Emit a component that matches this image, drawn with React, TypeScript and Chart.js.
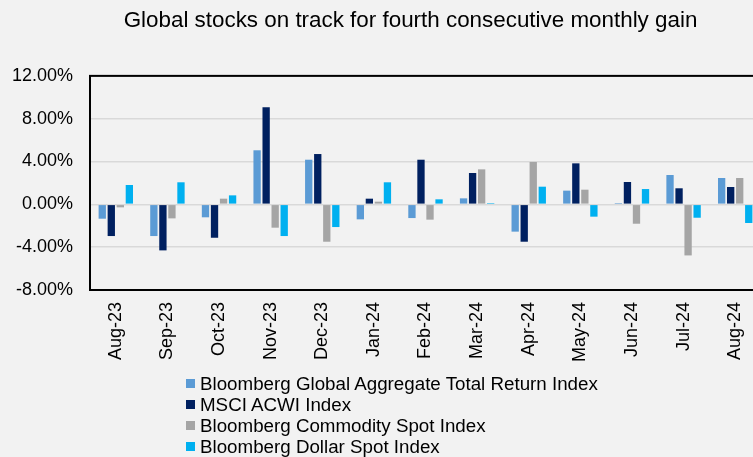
import React, { useEffect, useRef } from "react";
import { Chart, registerables } from "chart.js";

Chart.register(...registerables);

const TITLE = "Global stocks on track for fourth consecutive monthly gain";

const categories = [
  "Aug-23", "Sep-23", "Oct-23", "Nov-23", "Dec-23", "Jan-24", "Feb-24",
  "Mar-24", "Apr-24", "May-24", "Jun-24", "Jul-24", "Aug-24",
];

const seriesNames = [
  "Bloomberg Global Aggregate Total Return Index",
  "MSCI ACWI Index",
  "Bloomberg Commodity Spot Index",
  "Bloomberg Dollar Spot Index",
];

const seriesColors = ["#5B9BD5", "#002060", "#A5A5A5", "#00B0F0"];

const globalAgg = [-1.34, -2.96, -1.21, 5.05, 4.17, -1.40, -1.28, 0.56, -2.55, 1.28, 0.12, 2.74, 2.46];
const msciAcwi = [-2.96, -4.30, -3.12, 9.07, 4.70, 0.53, 4.17, 2.93, -3.49, 3.83, 2.09, 1.50, 1.62];
const commodity = [-0.28, -1.31, 0.53, -2.18, -3.49, 0.25, -1.43, 3.27, 3.96, 1.37, -1.81, -4.77, 2.46];
const dollar = [1.81, 2.06, 0.84, -2.96, -2.12, 2.06, 0.47, 0.12, 1.65, -1.15, 1.43, -1.25, -1.74];

const seriesValues = [globalAgg, msciAcwi, commodity, dollar];

const yTicks = [-8, -4, 0, 4, 8, 12];

const FONT = "'Liberation Sans', Arial, sans-serif";

const W = 821;
const H = 457;

const borderPlugin = {
  id: "areaBorder",
  afterDraw(chart: any) {
    const { ctx, chartArea } = chart;
    ctx.save();
    ctx.strokeStyle = "#000000";
    ctx.lineWidth = 2;
    ctx.strokeRect(chartArea.left, chartArea.top, chartArea.right - chartArea.left, chartArea.bottom - chartArea.top);
    ctx.restore();
  },
};

export default function App() {
  const ref = useRef<HTMLCanvasElement | null>(null);

  useEffect(() => {
    if (!ref.current) return;
    const chart = new Chart(ref.current, {
      type: "bar",
      data: {
        labels: categories,
        datasets: seriesNames.map((name, i) => ({
          label: name,
          data: seriesValues[i],
          backgroundColor: seriesColors[i],
          borderWidth: 0,
          categoryPercentage: 0.7,
          barPercentage: 0.81,
        })),
      },
      options: {
        animation: false,
        responsive: false,
        maintainAspectRatio: false,
        layout: { padding: { left: 0, right: 0, top: 0, bottom: 0 } },
        plugins: {
          legend: { display: false },
          tooltip: { enabled: false },
          title: {
            display: true,
            text: TITLE,
            color: "#000000",
            font: { family: FONT, size: 22.4, weight: "normal", lineHeight: 1.2 },
            padding: { top: 7, bottom: 42 },
          },
        },
        scales: {
          x: {
            grid: { display: false, drawTicks: false },
            border: { display: false },
            ticks: {
              color: "#000000",
              font: { family: FONT, size: 18 },
              minRotation: 90,
              maxRotation: 90,
              padding: 12,
              autoSkip: false,
            },
            afterFit(scale: any) {
              scale.height = H - 290;
            },
          },
          y: {
            min: -8,
            max: 12,
            afterBuildTicks(scale: any) {
              scale.ticks = yTicks.map((v) => ({ value: v }));
            },
            grid: { color: "#D9D9D9", lineWidth: 1.5, drawTicks: false },
            border: { display: false },
            ticks: {
              color: "#000000",
              font: { family: FONT, size: 18 },
              padding: 17,
              callback: (v: any) => Number(v).toFixed(2) + "%",
            },
            afterFit(scale: any) {
              scale.width = 90;
            },
          },
          yRightSpace: {
            position: "right",
            display: true,
            grid: { display: false, drawTicks: false },
            border: { display: false },
            ticks: { display: false },
            afterFit(scale: any) {
              scale.width = 60;
            },
          },
        },
      },
      plugins: [borderPlugin],
    });
    return () => chart.destroy();
  }, []);

  return (
    <div
      style={{
        position: "fixed",
        left: 0,
        top: 0,
        width: 753,
        height: 457,
        overflow: "hidden",
        background: "#F2F2F2",
      }}
    >
      <canvas ref={ref} width={W} height={H} style={{ position: "absolute", left: 0, top: 0, width: W, height: H }} />
      <div
        style={{
          position: "absolute",
          left: 186,
          top: 373,
          fontFamily: FONT,
          fontSize: 18.75,
          lineHeight: "21px",
          color: "#000000",
          whiteSpace: "nowrap",
        }}
      >
        {seriesNames.map((name, i) => (
          <div key={name} style={{ display: "flex", alignItems: "center" }}>
            <span
              style={{
                display: "inline-block",
                width: 9,
                height: 9,
                background: seriesColors[i],
                marginRight: 5,
              }}
            />
            <span>{name}</span>
          </div>
        ))}
      </div>
    </div>
  );
}
